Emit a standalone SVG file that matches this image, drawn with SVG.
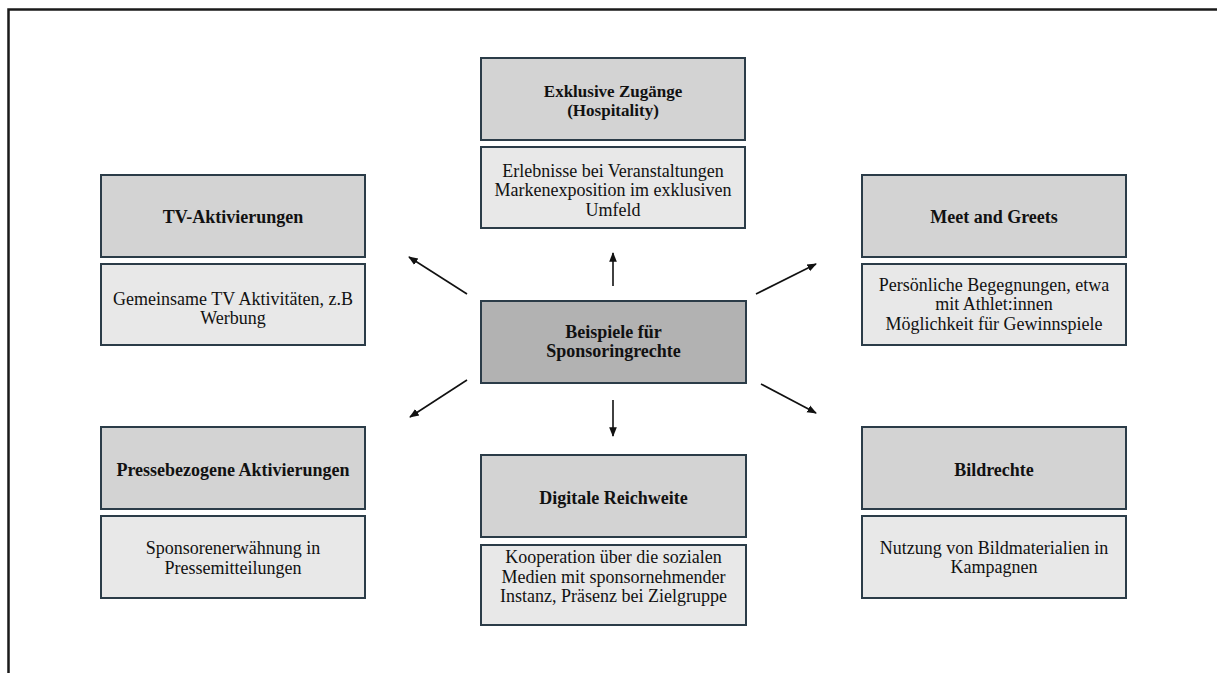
<svg xmlns="http://www.w3.org/2000/svg" width="1217" height="673" viewBox="0 0 1217 673">
  <style>
    .frame { fill: none; stroke: #1a1a1a; stroke-width: 2.5; }
    .hdr { fill: #d3d3d3; stroke: #2b3c48; stroke-width: 2; }
    .body { fill: #e8e8e8; stroke: #2b3c48; stroke-width: 2; }
    .core { fill: #b2b2b2; stroke: #2b3c48; stroke-width: 2; }
    text { font-family: "Liberation Serif", "Times New Roman", serif; fill: #111; text-anchor: middle; }
    .t { font-size: 18px; font-weight: bold; }
    .t17 { font-size: 17px; font-weight: bold; }
    .b { font-size: 18px; }
    .arrow { stroke: #111; stroke-width: 1.6; fill: none; marker-end: url(#head); }
  </style>
  <defs>
    <marker id="head" viewBox="0 0 10 10" refX="9" refY="5" markerWidth="6" markerHeight="6" orient="auto" markerUnits="strokeWidth">
      <path d="M0,1 L10,5 L0,9 Z" fill="#111"/>
    </marker>
  </defs>

  <rect width="1217" height="673" fill="#ffffff"/>
  <!-- page frame: left and top edges only -->
  <path class="frame" d="M8.5,673 V9.5 H1217"/>

  <g id="connectors">
    <line class="arrow" x1="613" y1="286" x2="613" y2="253"/>
    <line class="arrow" x1="613" y1="400" x2="613" y2="436"/>
    <line class="arrow" x1="467" y1="294" x2="409" y2="257"/>
    <line class="arrow" x1="756" y1="294" x2="816" y2="264"/>
    <line class="arrow" x1="467" y1="380" x2="410" y2="417"/>
    <line class="arrow" x1="761" y1="384" x2="816" y2="413"/>
  </g>

  <g id="center">
    <rect class="core" x="481" y="301" width="265" height="82"/>
    <text class="t" x="613.5" y="338">Beispiele für</text>
    <text class="t" x="613.5" y="357">Sponsoringrechte</text>
  </g>

  <g id="hospitality">
    <rect class="hdr" x="481" y="58" width="264" height="82"/>
    <text class="t17" x="613" y="97">Exklusive Zugänge</text>
    <text class="t17" x="613" y="116">(Hospitality)</text>
    <rect class="body" x="481" y="147" width="264" height="81"/>
    <text class="b" x="613" y="177">Erlebnisse bei Veranstaltungen</text>
    <text class="b" x="613" y="196">Markenexposition im exklusiven</text>
    <text class="b" x="613" y="216">Umfeld</text>
  </g>

  <g id="tv">
    <rect class="hdr" x="101" y="175" width="264" height="82"/>
    <text class="t" x="233" y="223">TV-Aktivierungen</text>
    <rect class="body" x="101" y="264" width="264" height="81"/>
    <text class="b" x="233" y="305">Gemeinsame TV Aktivitäten, z.B</text>
    <text class="b" x="233" y="324">Werbung</text>
  </g>

  <g id="meet">
    <rect class="hdr" x="862" y="175" width="264" height="82"/>
    <text class="t" x="994" y="223">Meet and Greets</text>
    <rect class="body" x="862" y="264" width="264" height="81"/>
    <text class="b" x="994" y="291">Persönliche Begegnungen, etwa</text>
    <text class="b" x="994" y="310">mit Athlet:innen</text>
    <text class="b" x="994" y="330">Möglichkeit für Gewinnspiele</text>
  </g>

  <g id="presse">
    <rect class="hdr" x="101" y="427" width="264" height="82"/>
    <text class="t" x="233" y="476">Pressebezogene Aktivierungen</text>
    <rect class="body" x="101" y="516" width="264" height="82"/>
    <text class="b" x="233" y="554">Sponsorenerwähnung in</text>
    <text class="b" x="233" y="574">Pressemitteilungen</text>
  </g>

  <g id="digital">
    <rect class="hdr" x="481" y="455" width="265" height="82"/>
    <text class="t" x="613.5" y="504">Digitale Reichweite</text>
    <rect class="body" x="481" y="545" width="265" height="80"/>
    <text class="b" x="613.5" y="563">Kooperation über die sozialen</text>
    <text class="b" x="613.5" y="583">Medien mit sponsornehmender</text>
    <text class="b" x="613.5" y="602">Instanz, Präsenz bei Zielgruppe</text>
  </g>

  <g id="bildrechte">
    <rect class="hdr" x="862" y="427" width="264" height="82"/>
    <text class="t" x="994" y="476">Bildrechte</text>
    <rect class="body" x="862" y="516" width="264" height="82"/>
    <text class="b" x="994" y="554">Nutzung von Bildmaterialien in</text>
    <text class="b" x="994" y="573">Kampagnen</text>
  </g>
</svg>
